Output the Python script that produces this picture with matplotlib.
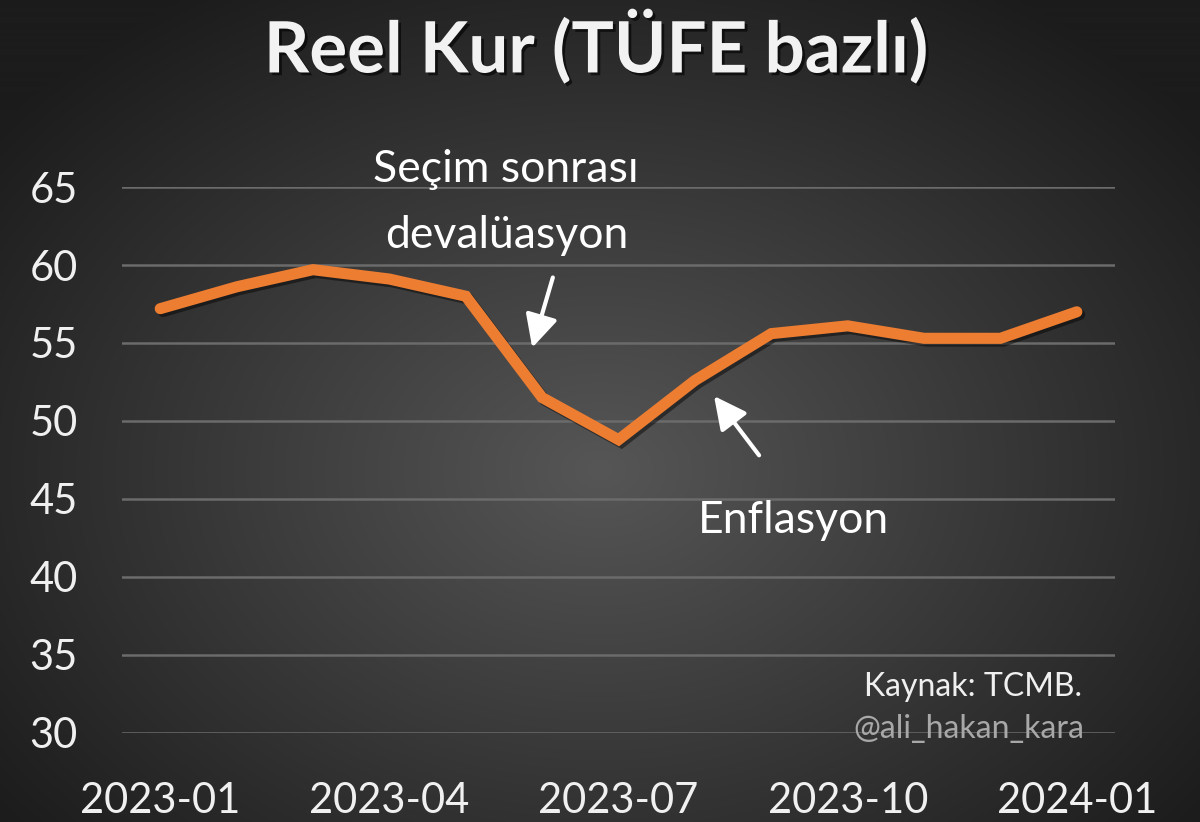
import numpy as np
import matplotlib
matplotlib.use("Agg")
import matplotlib.pyplot as plt
import matplotlib.patheffects as pe

# data
months = ["2023-01", "2023-02", "2023-03", "2023-04", "2023-05", "2023-06", "2023-07",
          "2023-08", "2023-09", "2023-10", "2023-11", "2023-12", "2024-01"]
reel_kur = [57.2, 58.6, 59.7, 59.1, 58.0, 51.5, 48.8, 52.6, 55.6, 56.1, 55.3, 55.3, 57.0]
yticks = [30, 35, 40, 45, 50, 55, 60, 65]
xtick_idx = [0, 3, 6, 9, 12]

title = "Reel Kur (TÜFE bazlı)"
note1 = ["Seçim sonrası", "devalüasyon"]
note2 = "Enflasyon"
source = "Kaynak: TCMB."
handle = "@ali_hakan_kara"

plt.rcParams['font.family'] = ['Lato', 'DejaVu Sans']

fig = plt.figure(figsize=(12, 8.22), dpi=100)

# radial gradient background
bg = fig.add_axes([0, 0, 1, 1], zorder=-10)
yy, xx = np.mgrid[0:822, 0:1200]
r = np.sqrt(((xx - 600) / 760.0) ** 2 + ((yy - 470) / 560.0) ** 2)
r = np.clip(r, 0, 1)
c0 = np.array([0x56, 0x56, 0x56]) / 255.0
c1 = np.array([0x1c, 0x1c, 0x1c]) / 255.0
img = c0[None, None, :] * (1 - r[..., None]) + c1[None, None, :] * r[..., None]
bg.imshow(img, aspect='auto', extent=[0, 1, 0, 1])
bg.axis('off')

ax = fig.add_axes([0.1017, 0.1083, 0.8275, 0.6642])
ax.patch.set_alpha(0)
x = np.arange(len(months))
ax.plot(x, reel_kur, color='#ED7D31', lw=8, solid_capstyle='round', solid_joinstyle='miter',
        zorder=3,
        path_effects=[pe.SimpleLineShadow(offset=(2, -2), shadow_color='black', alpha=0.45),
                      pe.Normal()])

ax.set_xlim(-0.5, 12.5)
ax.set_ylim(30, 65)
ax.set_yticks(yticks)
ax.set_xticks(xtick_idx)
ax.set_xticklabels([months[i] for i in xtick_idx])
ax.grid(axis='y', color='#6b6b6b', lw=1.8)
ax.set_axisbelow(True)
for s in ax.spines.values():
    s.set_visible(False)
ax.tick_params(length=0, colors='#f0f0f0', labelsize=30)
ax.tick_params(axis='y', pad=32)
ax.tick_params(axis='x', pad=35)

shadow = [pe.SimplePatchShadow(offset=(2, -2), shadow_rgbFace='black', alpha=0.6), pe.Normal()]
fig.text(0.497, 0.943, title, ha='center', va='center', fontsize=51, fontweight='bold',
         color='#f2f2f2', path_effects=shadow)

ax.text(4.53, 65.3, note1[0], ha='center', va='baseline', fontsize=32, color='white')
ax.text(4.53, 61.1, note1[1], ha='center', va='baseline', fontsize=32, color='white')
ax.text(8.29, 42.8, note2, ha='center', va='baseline', fontsize=32, color='white')

arrow = dict(arrowstyle='-|>,head_length=0.9,head_width=0.45', color='white', lw=3,
             mutation_scale=22, shrinkA=0, shrinkB=0)
ax.annotate('', xy=(4.87, 54.7), xytext=(5.14, 59.2), arrowprops=arrow)
ax.annotate('', xy=(7.25, 51.6), xytext=(7.84, 47.8), arrowprops=arrow)

ax.text(10.64, 32.4, source, ha='center', va='baseline', fontsize=23, color='#f0f0f0')
ax.text(10.59, 29.7, handle, ha='center', va='baseline', fontsize=23, color='#a8a8a8')

fig.savefig('out.png', dpi=100)
